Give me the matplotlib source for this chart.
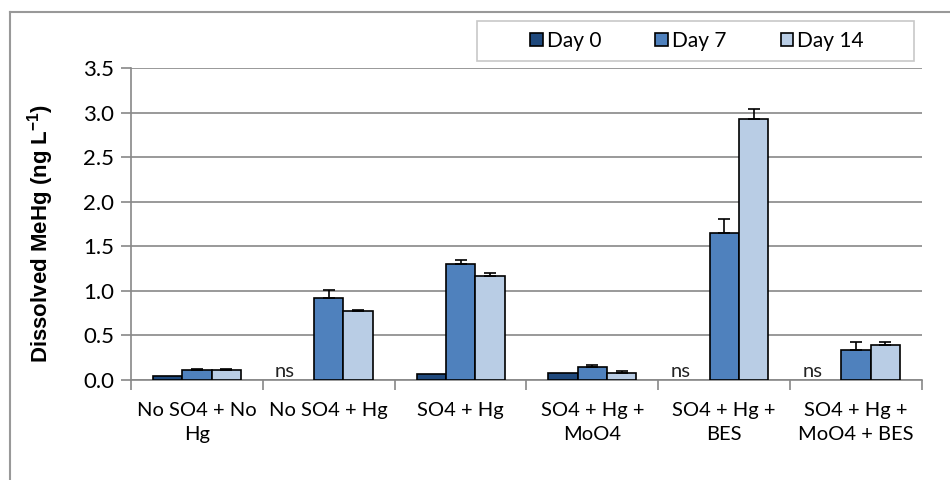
import numpy as np
import matplotlib
matplotlib.use("Agg")
import matplotlib.pyplot as plt
from matplotlib.patches import Rectangle
from matplotlib.lines import Line2D

# treatments on the x axis
categories = ["No SO4 + No\nHg", "No SO4 + Hg", "SO4 + Hg",
              "SO4 + Hg +\nMoO4", "SO4 + Hg +\nBES", "SO4 + Hg +\nMoO4 + BES"]
series = ["Day 0", "Day 7", "Day 14"]

# dissolved MeHg (ng/L); None = not sampled ("ns")
day0 = [0.05, None, 0.065, 0.075, None, None]
day7 = [0.11, 0.925, 1.30, 0.145, 1.65, 0.34]
day14 = [0.11, 0.775, 1.17, 0.075, 2.93, 0.395]

# standard errors (upper side only)
err0 = [0.0, 0.0, 0.0, 0.0, 0.0, 0.0]
err7 = [0.01, 0.085, 0.045, 0.025, 0.16, 0.085]
err14 = [0.015, 0.01, 0.035, 0.03, 0.11, 0.03]

colors = ["#1F497D", "#4F81BD", "#B9CDE5"]

TXT = "Lato"
plt.rcParams["font.family"] = [TXT, "DejaVu Sans"]
plt.rcParams["mathtext.fontset"] = "custom"
plt.rcParams["mathtext.bf"] = "Liberation Sans:bold"
plt.rcParams["mathtext.rm"] = "Liberation Sans"

fig = plt.figure(figsize=(9.5, 4.8), dpi=100)
ax = fig.add_axes([131 / 950, 1 - 380 / 480, 791 / 950, 312 / 480])

x = np.arange(len(categories))
width = 1 / 4.5
offsets = [-width, 0, width]

for vals, errs, off, c, lab in zip([day0, day7, day14], [err0, err7, err14],
                                   offsets, colors, series):
    for i, (v, e) in enumerate(zip(vals, errs)):
        if v is None:
            ax.text(x[i] + off - 0.11, 0.005, "ns", ha="center", va="bottom",
                    fontsize=14.5, color="#222222")
            continue
        ax.bar(x[i] + off, v, width, color=c, edgecolor="black",
               linewidth=1.2, zorder=3)
        if e > 0:
            ax.errorbar(x[i] + off, v, yerr=[[0], [e]], fmt="none",
                        ecolor="black", elinewidth=1.2, capsize=4,
                        capthick=1.2, zorder=4)

ax.set_xlim(-0.5, len(categories) - 0.5)
ax.set_ylim(0, 3.5)
ax.set_yticks(np.arange(0, 3.51, 0.5))
ax.set_yticklabels([f"{t:.1f}" for t in np.arange(0, 3.51, 0.5)], fontsize=16)
ax.yaxis.grid(True, color="#888888", linewidth=1.2, zorder=0)
ax.set_axisbelow(True)

ax.set_xticks(x)
ax.set_xticklabels(categories, fontsize=14.5, linespacing=1.45)
ax.tick_params(axis="x", which="major", length=0, pad=16)
ax.set_xticks(np.arange(-0.5, len(categories), 1), minor=True)
ax.tick_params(axis="x", which="minor", length=7, color="#888888", width=1.2)
ax.tick_params(axis="y", length=7, color="#888888", width=1.2, pad=5)

for s in ["top", "right"]:
    ax.spines[s].set_visible(False)
for s in ["left", "bottom"]:
    ax.spines[s].set_color("#888888")
    ax.spines[s].set_linewidth(1.2)

ax.set_ylabel(r"Dissolved MeHg (ng L$^{\mathbf{-1}}$)", fontsize=16,
              fontweight="bold", family="Liberation Sans")
ax.yaxis.set_label_coords(-0.095, 0.47)

# outer chart border (top and left only visible)
fig.add_artist(Line2D([10 / 950, 1], [1 - 12 / 480, 1 - 12 / 480],
                      color="#999999", linewidth=1.5))
fig.add_artist(Line2D([10 / 950, 10 / 950], [0, 1 - 12 / 480],
                      color="#999999", linewidth=1.5))

# legend box
fig.add_artist(Rectangle((477 / 950, 1 - 61 / 480), 437 / 950, 40 / 480,
                         transform=fig.transFigure, facecolor="white",
                         edgecolor="#C8C8C8", linewidth=1.2))
handles = [Rectangle((0, 0), 1, 1, facecolor=c, edgecolor="black", linewidth=1.2)
           for c in colors]
fig.legend(handles, series, loc="center", ncol=3, frameon=False,
           bbox_to_anchor=(697 / 950, 1 - 41 / 480), fontsize=15,
           handlelength=0.6, handleheight=0.6, handletextpad=0.2,
           columnspacing=2.6)

fig.savefig("out.png", dpi=100)
